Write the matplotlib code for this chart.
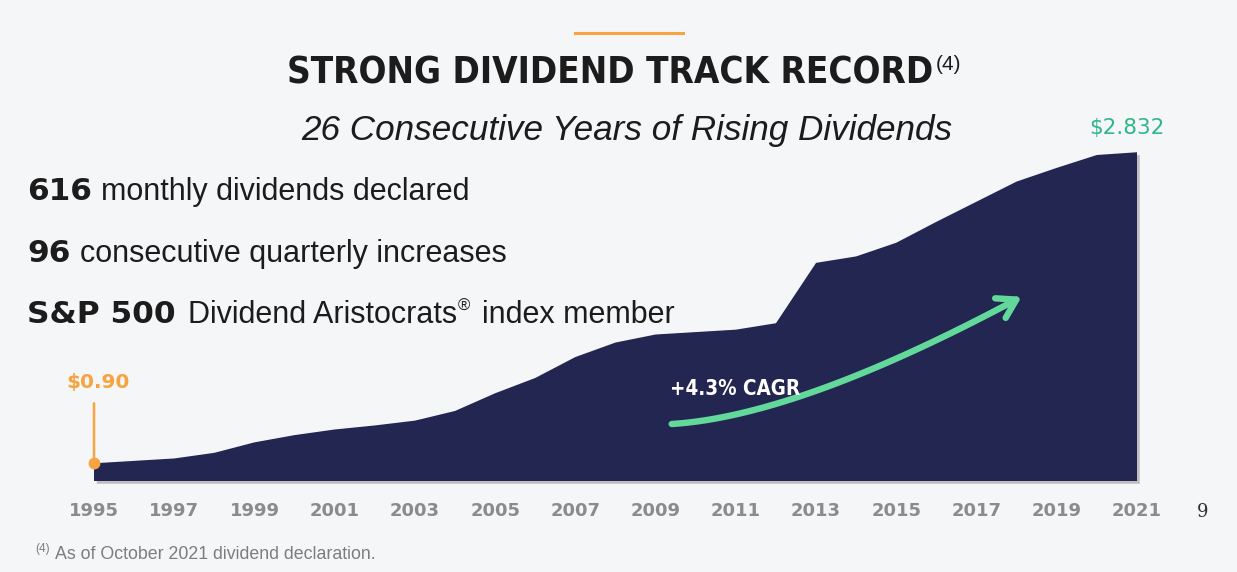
import numpy as np
import matplotlib
matplotlib.use("Agg")
import matplotlib.pyplot as plt
import matplotlib.patheffects as pe
from matplotlib import font_manager as fm
from matplotlib.patches import FancyArrowPatch
from matplotlib.path import Path
from matplotlib.bezier import BezierSegment
from matplotlib.lines import Line2D

# annualised dividend per share
years = list(range(1995, 2022))
dividends = [0.900, 0.915, 0.930, 0.965, 1.030, 1.075, 1.110, 1.135, 1.165,
             1.225, 1.335, 1.430, 1.560, 1.650, 1.700, 1.715, 1.730, 1.770,
             2.145, 2.185, 2.270, 2.400, 2.525, 2.650, 2.735, 2.815, 2.832]
tick_years = years[::2]

title = "STRONG DIVIDEND TRACK RECORD"
subtitle = "26 Consecutive Years of Rising Dividends"
stats_bold = ["616", "96", "S&P 500"]
stats_text = ["monthly dividends declared", "consecutive quarterly increases",
              "Dividend Aristocrats"]
cagr_label = "+4.3% CAGR"
footnote = "As of October 2021 dividend declaration."

W, H = 1237, 572
BG = "#f5f6f8"
NAVY = "#232651"
ORANGE = "#f7a33f"
GREEN = "#2fb785"
ARROW = "#62d99b"
GREY = "#8b8b8b"
INK = "#1c1c1c"


def fx(x):
    return x / W


def fy(y):
    return 1 - y / H


def has_font(name, stretch=None):
    for f in fm.fontManager.ttflist:
        if f.name == name and (stretch is None or f.stretch == stretch):
            return True
    return False


# condensed bold for the headline
if has_font("DejaVu Sans", "condensed"):
    COND = dict(family="DejaVu Sans", stretch="condensed", weight="bold")
    title_size, cagr_size = 26.4, 14.8
elif has_font("Liberation Sans Narrow"):
    COND = dict(family="Liberation Sans Narrow", weight="bold")
    title_size, cagr_size = 30, 16
else:
    COND = dict(family="DejaVu Sans", weight="bold")
    title_size, cagr_size = 23.5, 13
SANS = "Liberation Sans"

fig = plt.figure(figsize=(W / 100, H / 100), dpi=100, facecolor=BG)

ybase = 0.79
ax = fig.add_axes([fx(94), fy(481), (1137 - 94) / W, 339.7 / H])
ax.set_xlim(years[0], years[-1])
ax.set_ylim(ybase, 2.9)
ax.set_facecolor("none")
for s in ax.spines.values():
    s.set_visible(False)

ax.fill_between(years, dividends, ybase, color=NAVY, lw=0, clip_on=False,
                path_effects=[pe.SimplePatchShadow(offset=(2, -2), shadow_rgbFace="#9a9a9a", alpha=0.6),
                              pe.Normal()])

ax.set_yticks([])
ax.set_xticks(tick_years, [str(y) for y in tick_years], fontweight="bold",
              fontsize=13, color=GREY, family="DejaVu Sans")
ax.tick_params(axis="x", length=0, pad=15)

# start point
ax.annotate("", xy=(years[0], dividends[0]), xytext=(0, 60), textcoords="offset pixels",
            arrowprops=dict(arrowstyle="-", color=ORANGE, lw=1.8, shrinkA=0, shrinkB=0))
ax.plot(years[0], dividends[0], "o", ms=7.5, color=ORANGE, clip_on=False, zorder=5)
ax.annotate(f"${dividends[0]:.2f}", xy=(years[0], dividends[0]), xytext=(4, 75),
            textcoords="offset pixels", ha="center", va="baseline",
            fontsize=14.5, fontweight="bold", color=ORANGE, family="DejaVu Sans")
# end point
ax.annotate(f"${dividends[-1]:.3f}", xy=(years[-1], dividends[-1]), xytext=(-10, 18),
            textcoords="offset pixels", ha="center", va="baseline",
            fontsize=15.5, color=GREEN, family="DejaVu Sans")

# CAGR arrow
ctrl = np.array([[671.7, 424], [800, 416], [1021.7, 296.7]])
pts = BezierSegment(ctrl)(np.linspace(0, 1, 60))
pts = np.column_stack([fx(pts[:, 0]), fy(pts[:, 1])])
arrow = FancyArrowPatch(path=Path(pts), arrowstyle="->,head_length=0.65,head_width=0.4",
                        mutation_scale=20, lw=4.6, color=ARROW, transform=fig.transFigure,
                        capstyle="round", joinstyle="round")
fig.add_artist(arrow)
fig.text(fx(670), fy(395), cagr_label, color="white", fontsize=cagr_size, va="baseline", **COND)

# headline
fig.add_artist(Line2D([fx(575), fx(683)], [fy(33), fy(33)], color=ORANGE, lw=2.2))
t = fig.text(fx(610), fy(83), title, ha="center", va="baseline", fontsize=title_size,
             color=INK, **COND)
ax.annotate("(4)", xy=(1, H - 70), xycoords=(t, "figure pixels"), xytext=(3, 0),
            textcoords="offset pixels", va="baseline", fontsize=15, color=INK, family=SANS)
fig.text(fx(627), fy(140), subtitle, ha="center", va="baseline", fontsize=25.3,
         style="italic", color=INK, family=SANS)

# key stats
bases = [200, 262, 323]
gaps = [9, 10, 12]
last = None
for b, txt, yb, g in zip(stats_bold, stats_text, bases, gaps):
    tb = fig.text(fx(27), fy(yb), b, va="baseline", fontsize=22.5, fontweight="bold",
                  color=INK, family="DejaVu Sans")
    last = ax.annotate(txt, xy=(1, H - yb), xycoords=(tb, "figure pixels"), xytext=(g, 0),
                       textcoords="offset pixels", va="baseline", fontsize=22,
                       color=INK, family=SANS)
reg = ax.annotate("\u00ae", xy=(1, H - 311), xycoords=(last, "figure pixels"), xytext=(1, 0),
                  textcoords="offset pixels", va="baseline", fontsize=12, color=INK, family=SANS)
ax.annotate("index member", xy=(1, H - 323), xycoords=(reg, "figure pixels"), xytext=(12, 0),
            textcoords="offset pixels", va="baseline", fontsize=22, color=INK, family=SANS)

# footer
fig.text(fx(1203), fy(512), "9", ha="center", va="center", fontsize=13,
         color="#333333", family="DejaVu Serif")
fn = fig.text(fx(35), fy(552), "(4)", va="baseline", fontsize=8.5, color="#7d7d7d", family=SANS)
ax.annotate(footnote, xy=(1, H - 559), xycoords=(fn, "figure pixels"), xytext=(5, 0),
            textcoords="offset pixels", va="baseline", fontsize=12.8, color="#7d7d7d",
            family=SANS)

fig.savefig("out.png", dpi=100, facecolor=BG)
